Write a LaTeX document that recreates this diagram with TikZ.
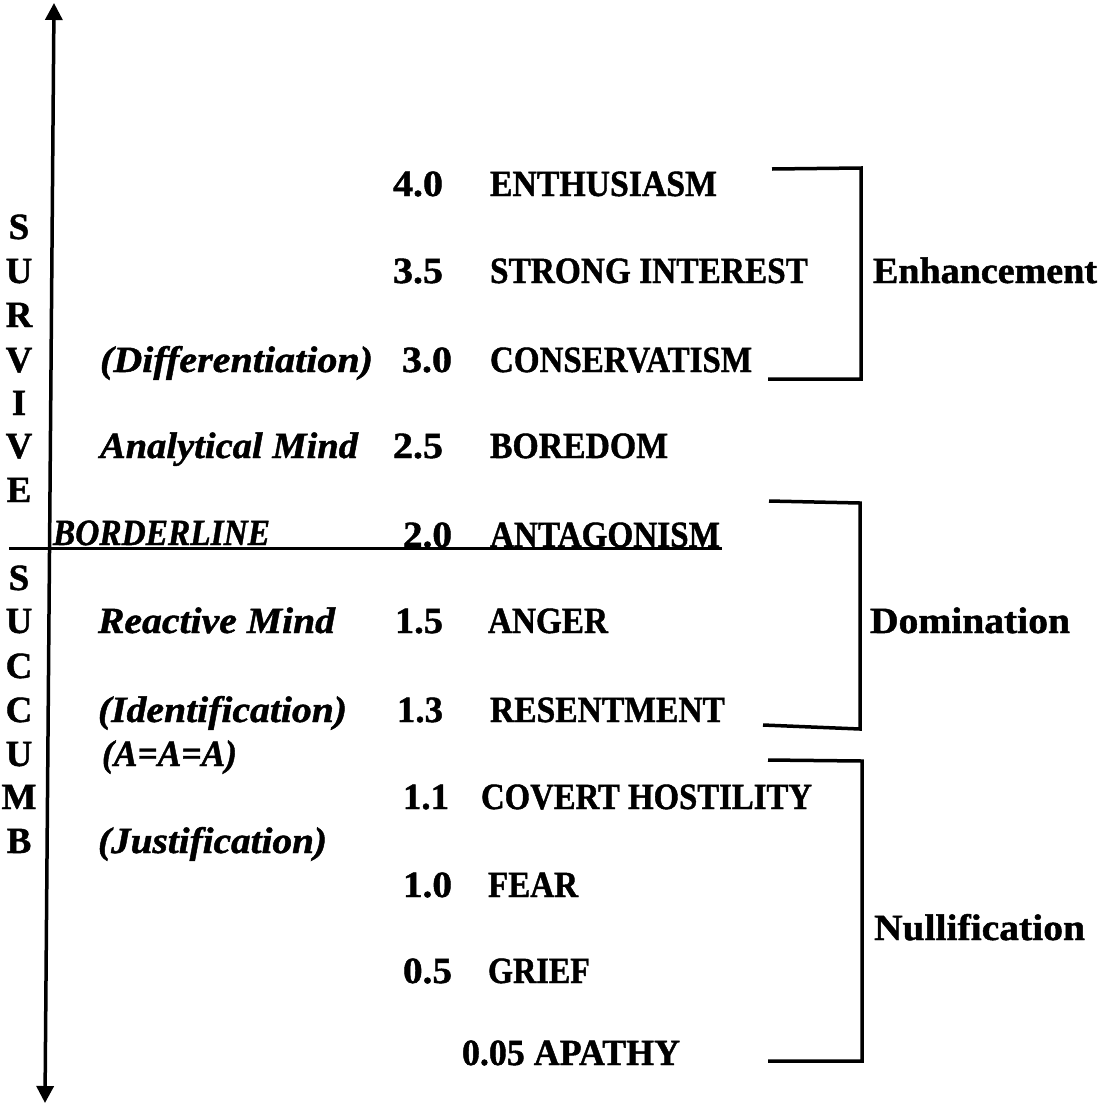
\documentclass[tikz,border=0pt]{standalone}
\usepackage{fontspec}
\setmainfont{Liberation Serif}[BoldFeatures={FakeBold=1.2},BoldItalicFeatures={FakeBold=1.2}]
\usetikzlibrary{arrows.meta}
\newcommand{\fw}[2]{\resizebox{#1pt}{\height}{#2}}
\begin{document}
\begin{tikzpicture}[x=1pt,y=-1pt,
  every node/.style={inner sep=0pt, outer sep=0pt, font=\fontsize{37}{44}\selectfont\bfseries},
  txt/.style={anchor=base west},
  ital/.style={anchor=base west, font=\fontsize{37}{44}\selectfont\bfseries\itshape},
  letter/.style={anchor=base},
  ln/.style={line width=3.5pt, line join=miter},
  axis/.style={line width=3.5pt, {Triangle[width=17pt,length=17pt]}-{Triangle[width=17pt,length=17pt]}}]
\useasboundingbox (0,0) rectangle (1115,1103);

% axis
\coordinate (atop) at (54,3);
\coordinate (abot) at (45,1103);
\draw[axis] (abot) -- (atop);

% divider / underline
\coordinate (dl) at (9,548.5);
\coordinate (dr) at (722,548.5);
\draw[line width=2.8pt] (dl) -- (dr);

% SURVIVE
\node[letter] (s1) at (19,239) {S};
\node[letter] (s2) at (19,283) {U};
\node[letter] (s3) at (19,327) {R};
\node[letter] (s4) at (19,372) {V};
\node[letter] (s5) at (19,415) {I};
\node[letter] (s6) at (19,458) {V};
\node[letter] (s7) at (19,502) {E};
% SUCCUMB
\node[letter] (c1) at (19,590) {S};
\node[letter] (c2) at (19,633) {U};
\node[letter] (c3) at (19,678) {C};
\node[letter] (c4) at (19,722) {C};
\node[letter] (c5) at (19,766) {U};
\node[letter] (c6) at (19,809) {M};
\node[letter] (c7) at (19,853) {B};

% left italic labels
\node[ital] (dif) at (100,372) {\fw{273}{(Differentiation)}};
\node[ital] (ana) at (100,458) {\fw{258}{Analytical Mind}};
\node[ital] (bor) at (53,545) {\fw{217}{BORDERLINE}};
\node[ital] (rea) at (98,633) {\fw{237}{Reactive Mind}};
\node[ital] (ide) at (98,722) {\fw{249}{(Identification)}};
\node[ital] (aaa) at (102,766) {\fw{135}{(A=A=A)}};
\node[ital] (jus) at (98,853) {\fw{229}{(Justification)}};

% numbers
\node[txt] (n40) at (393,196) {\fw{50}{4.0}};
\node[txt] (n35) at (393,283) {\fw{50}{3.5}};
\node[txt] (n30) at (402,372) {\fw{50}{3.0}};
\node[txt] (n25) at (393,458) {\fw{50}{2.5}};
\node[txt] (n20) at (403,547) {\fw{49}{2.0}};
\node[txt] (n15) at (395,633) {\fw{48}{1.5}};
\node[txt] (n13) at (397,722) {\fw{46}{1.3}};
\node[txt] (n11) at (403,809) {\fw{46}{1.1}};
\node[txt] (n10) at (403,897) {\fw{49}{1.0}};
\node[txt] (n05) at (403,983) {\fw{49}{0.5}};

% tones
\node[txt] (w40) at (490,196) {\fw{227}{ENTHUSIASM}};
\node[txt] (w35) at (490,283) {\fw{318}{STRONG INTEREST}};
\node[txt] (w30) at (490,372) {\fw{262}{CONSERVATISM}};
\node[txt] (w25) at (490,458) {\fw{178}{BOREDOM}};
\node[txt] (w20) at (490,547) {\fw{230}{ANTAGONISM}};
\node[txt] (w15) at (488,633) {\fw{120}{ANGER}};
\node[txt] (w13) at (490,722) {\fw{235}{RESENTMENT}};
\node[txt] (w11) at (481,809) {\fw{331}{COVERT HOSTILITY}};
\node[txt] (w10) at (488,897) {\fw{90}{FEAR}};
\node[txt] (w05) at (488,983) {\fw{102}{GRIEF}};
\node[txt] (w005) at (462,1065) {\fw{218}{0.05 APATHY}};

% group labels
\node[txt] (enh) at (873,283) {\fw{224}{Enhancement}};
\node[txt] (dom) at (870,633) {\fw{200}{Domination}};
\node[txt] (nul) at (874,940) {\fw{211}{Nullification}};

% brackets
\coordinate (e1) at (772,169);
\coordinate (e2) at (861,168);
\coordinate (e3) at (861,379);
\coordinate (e4) at (768,379);
\draw[ln] (e1) -- (e2) -- (e3) -- (e4);

\coordinate (d1) at (769,501);
\coordinate (d2) at (860,503);
\coordinate (d3) at (860,729);
\coordinate (d4) at (763,725);
\draw[ln] (d1) -- (d2) -- (d3) -- (d4);

\coordinate (u1) at (768,760);
\coordinate (u2) at (862,761);
\coordinate (u3) at (862,1061);
\coordinate (u4) at (768,1061);
\draw[ln] (u1) -- (u2) -- (u3) -- (u4);
\end{tikzpicture}
\end{document}
